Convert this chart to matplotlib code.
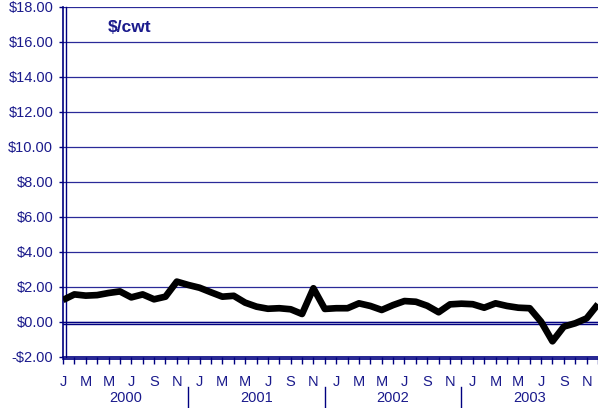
"""Monthly price margin in $/cwt, Jan 2000 - Dec 2003 (Excel-style line chart)."""
import matplotlib

matplotlib.use("Agg")
import matplotlib.pyplot as plt  # noqa: E402
import matplotlib.transforms as mtransforms  # noqa: E402
from matplotlib.lines import Line2D  # noqa: E402

NAVY = "#000080"
TEXT = "#1a1a8c"
plt.rcParams["font.family"] = ["Liberation Sans", "DejaVu Sans"]

YEARS = ["2000", "2001", "2002", "2003"]
MONTH_LETTERS = ["J", "F", "M", "A", "M", "J", "J", "A", "S", "O", "N", "D"]
Y_TICKS = [-2, 0, 2, 4, 6, 8, 10, 12, 14, 16, 18]

# $/cwt, one value per month starting Jan 2000
values = [
    1.24, 1.56, 1.49, 1.52, 1.64, 1.73, 1.39, 1.56, 1.28, 1.43, 2.29, 2.10,
    1.94, 1.68, 1.43, 1.48, 1.09, 0.86, 0.74, 0.77, 0.71, 0.44, 1.91, 0.73,
    0.77, 0.77, 1.05, 0.90, 0.67, 0.95, 1.18, 1.14, 0.91, 0.54, 0.99, 1.03,
    1.00, 0.80, 1.05, 0.90, 0.80, 0.77, 0.00, -1.12, -0.28, -0.09, 0.19, 1.00,
]

W, H = 598, 408
FS = 10.5
fig = plt.figure(figsize=(W / 100, H / 100), dpi=100)
ax = fig.add_axes([63 / W, 1 - 356.7 / H, (W - 63) / W, (356.7 - 6.7) / H])

n = len(values)
x = list(range(n))

# gridlines, with the doubled zero line of the pseudo-3D wall
for v in Y_TICKS[1:]:
    ax.axhline(v, color="#2a2a98", lw=0.9, zorder=1)
down = mtransforms.offset_copy(ax.transData, fig=fig, x=0, y=-2.5, units="dots")
ax.plot([0, n], [0, 0], color=NAVY, lw=1.0, transform=down, zorder=1)
ax.axhline(0, color=NAVY, lw=1.0, zorder=1)

ax.plot(x, values, color="black", lw=4.8, solid_joinstyle="round",
        solid_capstyle="butt", zorder=3)

ax.set_xlim(0, n - 1)
ax.set_ylim(-2, 18)

for side in ("top", "right"):
    ax.spines[side].set_visible(False)
for side in ("left", "bottom"):
    ax.spines[side].set_color(NAVY)
    ax.spines[side].set_linewidth(1.2)

# second edge lines of the wall
right = mtransforms.offset_copy(ax.transAxes, fig=fig, x=3, y=0, units="dots")
ax.add_line(Line2D([0, 0], [0, 1], transform=right, color=NAVY, lw=1.0, clip_on=False))
below = mtransforms.offset_copy(ax.transAxes, fig=fig, x=0, y=-2.5, units="dots")
ax.add_line(Line2D([0, 1], [0, 0], transform=below, color=NAVY, lw=1.2, clip_on=False))

ax.set_yticks(Y_TICKS)
ax.set_yticklabels([f"-${-v:.2f}" if v < 0 else f"${v:.2f}" for v in Y_TICKS])
ax.tick_params(axis="y", length=3, width=1, color=NAVY, labelcolor=TEXT,
               labelsize=FS, pad=4, direction="out")

ax.set_xticks(x)
ax.set_xticklabels([MONTH_LETTERS[i % 12] if i % 2 == 0 else "" for i in x])
ax.tick_params(axis="x", length=5, width=1, color=NAVY, labelcolor=TEXT,
               labelsize=FS, pad=8, direction="out")

# year labels and separators below the month letters
for k, year in enumerate(YEARS):
    lo = max(12 * k - 1, 0)
    hi = 12 * k + 11
    ax.text((lo + hi) / 2, -0.117, year, transform=ax.get_xaxis_transform(),
            ha="center", va="center", color=TEXT, fontsize=FS)
    if k < len(YEARS) - 1:
        ax.add_line(Line2D([hi, hi], [-0.087, -0.145], transform=ax.get_xaxis_transform(),
                           color=NAVY, lw=1.0, clip_on=False))

ax.text(108 / W, 1 - 28 / H, "$/cwt", transform=fig.transFigure, ha="left",
        va="center", color=TEXT, fontsize=12.5, fontweight="bold")

fig.savefig("out.png", dpi=100)
